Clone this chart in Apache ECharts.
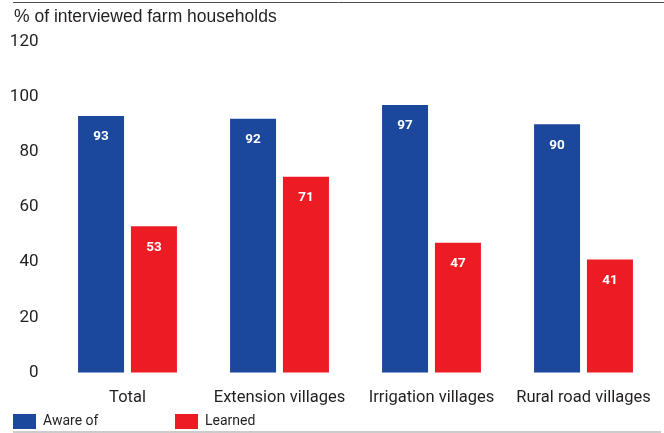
<!DOCTYPE html>
<html>
<head>
<meta charset="utf-8">
<script src="https://cdn.jsdelivr.net/npm/echarts@6/dist/echarts.min.js"></script>
<style>
  html, body { margin: 0; padding: 0; background: #fff; }
  #chart { width: 664px; height: 433px; }
</style>
</head>
<body>
<div id="chart"></div>
<script>
// Share of interviewed farm households aware of / having learned the practice
const categories = ['Total', 'Extension villages', 'Irrigation villages', 'Rural road villages'];
const awareOf = [93, 92, 97, 90];
const learned = [53, 71, 47, 41];
const yTicks = [0, 20, 40, 60, 80, 100, 120];

const NARROW = "Roboto, 'Liberation Sans', sans-serif";
const TEXT = '#231f20';
const BLUE = '#1b479c';
const RED = '#ed1c24';

const chart = echarts.init(document.getElementById('chart'), null, { renderer: 'canvas' });

const valueLabel = {
  show: true,
  position: 'insideTop',
  distance: 14,
  color: '#fff',
  fontFamily: NARROW,
  fontWeight: 'bold',
  fontSize: 13.5
};

const legendBase = {
  top: 414, itemWidth: 23, itemHeight: 15, itemGap: 0, padding: 0, icon: 'rect',
  textStyle: { color: TEXT, fontFamily: NARROW, fontSize: 14, padding: [0, 0, 0, 2] }
};

chart.setOption({
  animation: false,
  backgroundColor: '#fff',
  grid: { left: 51.5, right: 4.5, top: 41.5, bottom: 60.5 },
  xAxis: {
    type: 'category',
    data: categories,
    axisLine: { show: false },
    axisTick: { show: false },
    axisLabel: { interval: 0, color: TEXT, fontFamily: NARROW, fontSize: 16.5, margin: 17 }
  },
  yAxis: {
    type: 'value',
    min: yTicks[0],
    max: yTicks[yTicks.length - 1],
    interval: 20,
    splitLine: { show: false },
    axisLine: { show: false },
    axisTick: { show: false },
    axisLabel: { color: TEXT, fontFamily: NARROW, fontSize: 17, margin: 13 }
  },
  legend: [
    Object.assign({ data: ['Aware of'], left: 13 }, legendBase),
    Object.assign({ data: ['Learned'], left: 175 }, legendBase)
  ],
  series: [
    {
      name: 'Aware of', type: 'bar', data: awareOf, barWidth: 46, barGap: '15%',
      itemStyle: { color: BLUE }, label: valueLabel
    },
    {
      name: 'Learned', type: 'bar', data: learned, barWidth: 46,
      itemStyle: { color: RED }, label: valueLabel
    }
  ],
  graphic: [
    { type: 'line', shape: { x1: 13, y1: 2.5, x2: 664, y2: 2.5 }, style: { stroke: '#4d4d4f', lineWidth: 1 } },
    { type: 'line', shape: { x1: 13, y1: 432, x2: 661, y2: 432 }, style: { stroke: '#999', lineWidth: 1 } },
    {
      type: 'text', left: 14, top: 8,
      style: { text: '% of interviewed farm households', fill: TEXT, font: "17.5px 'Liberation Sans', Arial, sans-serif" }
    }
  ]
});
</script>
</body>
</html>
